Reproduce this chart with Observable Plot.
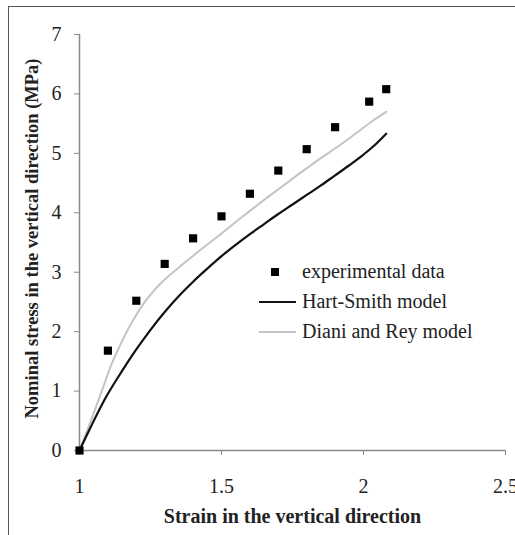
<!DOCTYPE html>
<html><head><meta charset="utf-8">
<script src="https://cdn.jsdelivr.net/npm/d3@7"></script>
<script src="https://cdn.jsdelivr.net/npm/@observablehq/plot@0.6"></script>
<style>
html,body{margin:0;padding:0;background:#fff;overflow:hidden;}
#wrap{position:relative;width:515px;height:535px;overflow:hidden;}
#frame{position:absolute;left:8px;top:6px;width:700px;height:700px;border-left:1.5px solid #555;border-top:1.5px solid #555;box-sizing:border-box;}
#chart{position:absolute;left:0;top:0;}
.leg{position:absolute;font-family:"Liberation Serif","Times New Roman",serif;font-size:20px;color:#222;line-height:22px;white-space:nowrap;}
.sw{position:absolute;}
</style>
</head><body>
<div id="wrap"><div id="frame"></div><div id="chart"></div>
<div id="legend"></div></div>
<script>
// Experimental data
const expStrain = [1.0, 1.1, 1.2, 1.3, 1.4, 1.5, 1.6, 1.7, 1.8, 1.9, 2.02, 2.08];
const expStress = [0, 1.68, 2.52, 3.14, 3.57, 3.94, 4.32, 4.71, 5.07, 5.44, 5.87, 6.08];
// Hart-Smith model
const hsStrain = [1.0, 1.04, 1.09, 1.15, 1.20, 1.25, 1.30, 1.35, 1.40, 1.45, 1.50, 1.55, 1.60, 1.65, 1.70, 1.75, 1.80, 1.85, 1.90, 1.95, 2.00, 2.04, 2.08];
const hsStress = [0, 0.40, 0.87, 1.34, 1.70, 2.03, 2.33, 2.60, 2.84, 3.06, 3.27, 3.46, 3.64, 3.81, 3.98, 4.14, 4.30, 4.46, 4.63, 4.80, 4.98, 5.14, 5.33];
// Diani and Rey model
const drStrain = [1.0, 1.04, 1.08, 1.11, 1.15, 1.18, 1.23, 1.29, 1.36, 1.43, 1.50, 1.57, 1.64, 1.71, 1.78, 1.85, 1.92, 1.98, 2.03, 2.08];
const drStress = [0, 0.50, 1.02, 1.42, 1.84, 2.12, 2.50, 2.83, 3.12, 3.39, 3.65, 3.92, 4.18, 4.43, 4.68, 4.92, 5.15, 5.36, 5.54, 5.70];
// Ticks and labels
const xTicks = [1, 1.5, 2, 2.5];
const yTicks = [0, 1, 2, 3, 4, 5, 6, 7];
const xTitle = "Strain in the vertical direction";
const yTitle = "Nominal stress in the vertical direction (MPa)";
const seriesNames = ["experimental data", "Hart-Smith model", "Diani and Rey model"];

const exp = expStrain.map((x, i) => ({x, y: expStress[i]}));
const hs = hsStrain.map((x, i) => ({x, y: hsStress[i]}));
const dr = drStrain.map((x, i) => ({x, y: drStress[i]}));

const serif = "'Liberation Serif','Times New Roman',serif";
const axisColor = "#8a8a8a";

const plot = Plot.plot({
  width: 515, height: 535,
  marginLeft: 79, marginRight: 10, marginTop: 34, marginBottom: 85,
  x: {domain: [1, 2.5]},
  y: {domain: [0, 7]},
  style: {fontFamily: serif, fontSize: "20px", color: "#222", background: "transparent"},
  marks: [
    Plot.ruleX([1], {stroke: axisColor, strokeWidth: 1.5}),
    Plot.ruleY([0], {stroke: axisColor, strokeWidth: 1.5}),
    Plot.axisX({ticks: xTicks, tickSize: 5, tickPadding: 23, stroke: axisColor, label: null, tickFormat: d => String(d), fill: "#222"}),
    Plot.axisY({ticks: yTicks, tickSize: 5, tickPadding: 13, stroke: axisColor, label: null, tickFormat: d => String(d), fill: "#222"}),
    Plot.line(dr, {x: "x", y: "y", stroke: "#c4c4c4", strokeWidth: 2, curve: "monotone-x"}),
    Plot.line(hs, {x: "x", y: "y", stroke: "#111", strokeWidth: 2.2, curve: "monotone-x"}),
    Plot.dot(exp, {x: "x", y: "y", symbol: "square", r: 4.6, fill: "#000", stroke: "none"}),
    Plot.text([yTitle], {frameAnchor: "left", dx: -47, dy: -4, rotate: -90, textAnchor: "middle", fontWeight: "bold", fontSize: 18.5, fill: "#222"}),
    Plot.text([xTitle], {frameAnchor: "bottom", dy: 72, textAnchor: "middle", fontWeight: "bold", fontSize: 20, fill: "#222"})
  ]
});
document.getElementById("chart").appendChild(plot);

// Legend (HTML overlay)
const legend = document.getElementById("legend");
const rows = [272, 302, 332];
const swatches = [
  {type: "square"},
  {type: "line", color: "#111", w: 2.2},
  {type: "line", color: "#c4c4c4", w: 2}
];
seriesNames.forEach((name, i) => {
  const cy = rows[i];
  const sw = document.createElement("div");
  sw.className = "sw";
  if (swatches[i].type === "square") {
    Object.assign(sw.style, {left: "271px", top: (cy - 4) + "px", width: "8px", height: "8px", background: "#000"});
  } else {
    Object.assign(sw.style, {left: "259px", top: (cy - swatches[i].w / 2) + "px", width: "37px", height: swatches[i].w + "px", background: swatches[i].color});
  }
  legend.appendChild(sw);
  const t = document.createElement("div");
  t.className = "leg";
  t.textContent = name;
  Object.assign(t.style, {left: "302px", top: (cy - 12) + "px"});
  legend.appendChild(t);
});
</script>
</body></html>
